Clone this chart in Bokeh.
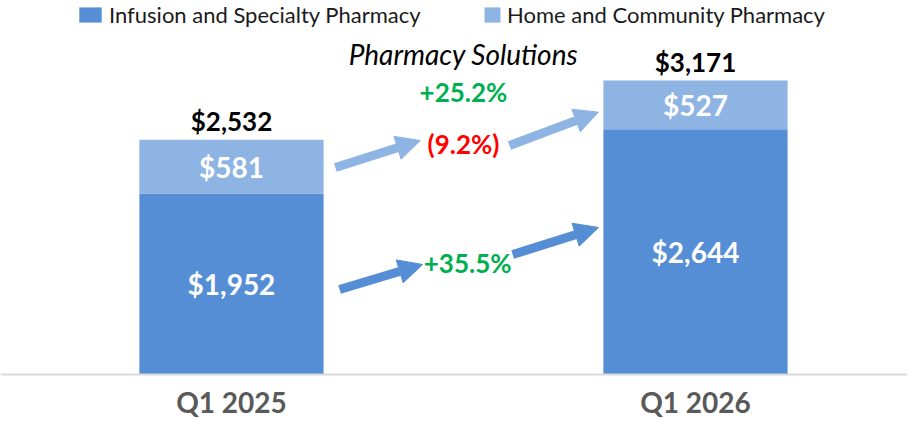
from bokeh.plotting import figure
from bokeh.models import (Range1d, Arrow, NormalHead, Label, Legend,
                          LegendItem, ColumnDataSource, Span)
from bokeh.core.properties import value
from bokeh.embed import file_html
from bokeh.resources import INLINE

# ---- data ----
categories = ["Q1 2025", "Q1 2026"]
infusion = [1952, 2644]
home = [581, 527]
totals = [2532, 3171]
series_names = ["Infusion and Specialty Pharmacy", "Home and Community Pharmacy"]
title_text = "Pharmacy Solutions"
growth_total = "+25.2%"
growth_home = "(9.2%)"
growth_infusion = "+35.5%"

DARK = "#558ed5"
LIGHT = "#8eb4e3"
GREEN = "#00b050"
RED = "#ff0000"
FONT = "Lato"

xs = list(range(len(categories)))
src = ColumnDataSource(dict(x=xs, infusion=infusion, home=home))

p = figure(width=907, height=420, output_backend="svg", toolbar_location=None,
           x_range=Range1d(-0.4978, 1.4569), y_range=Range1d(-496, 4034),
           min_border=0, x_axis_location=None, y_axis_location=None)
p.outline_line_color = None
p.grid.visible = False
p.background_fill_color = "white"
p.border_fill_color = "white"

bars = p.vbar_stack(["infusion", "home"], x="x", width=0.397, source=src,
                    color=[DARK, LIGHT], line_color=None)

# baseline
p.add_layout(Span(location=0, dimension="width", line_color="#d9d9d9", line_width=2))

# category labels
p.text(x=xs, y=[0] * len(xs), text=categories, y_offset=27, text_align="center",
       text_baseline="middle", text_color="#595959", text_font=value(FONT),
       text_font_style="bold", text_font_size="28px")

# segment labels (white)
seg_x, seg_y, seg_t = [], [], []
for i in xs:
    seg_x += [i, i]
    seg_y += [infusion[i] / 2, infusion[i] + home[i] / 2]
    seg_t += [f"${infusion[i]:,}", f"${home[i]:,}"]
p.text(x=seg_x, y=seg_y, text=seg_t, text_align="center", text_baseline="middle",
       text_color="white", text_font=value(FONT), text_font_style="bold",
       text_font_size="28px")

# totals
p.text(x=xs, y=totals, text=[f"${t:,}" for t in totals], text_align="center",
       text_baseline="bottom", y_offset=-3, text_color="black",
       text_font=value(FONT), text_font_style="bold", text_font_size="26px")

# arrows (annotation positions in data space)
def arrow(x0, y0, x1, y1, color):
    p.add_layout(Arrow(x_start=x0, y_start=y0, x_end=x1, y_end=y1,
                       line_color=color, line_width=9,
                       end=NormalHead(size=24, fill_color=color, line_color=color)))

arrow(0.224, 2233, 0.407, 2524, LIGHT)
arrow(0.599, 2470, 0.791, 2830, LIGHT)
arrow(0.233, 917, 0.412, 1187, DARK)
arrow(0.606, 1294, 0.791, 1586, DARK)

mid = 0.5
def label(x, y, text, color, size, style="bold"):
    p.add_layout(Label(x=x, y=y, text=text, text_align="center",
                       text_baseline="middle", text_font=FONT, text_font_style=style,
                       text_font_size=size, text_color=color))

label(mid, 3452, title_text, "black", "28px", "italic")
label(mid, 3042, growth_total, GREEN, "26px")
label(mid, 2481, growth_home, RED, "26px")
label(0.509, 1208, growth_infusion, GREEN, "26px")

common = dict(orientation="horizontal", label_text_font=FONT,
              label_text_font_size="22px", label_text_color="#1a1a1a",
              glyph_height=19, label_standoff=5, padding=0, margin=0,
              border_line_color=None, background_fill_alpha=0)
p.add_layout(Legend(items=[LegendItem(label=series_names[0], renderers=[bars[0]])],
                    location=(76, 392), glyph_width=28, **common))
p.add_layout(Legend(items=[LegendItem(label=series_names[1], renderers=[bars[1]])],
                    location=(482, 392), glyph_width=20, **common))

open("out.html", "w").write(file_html(p, INLINE))
